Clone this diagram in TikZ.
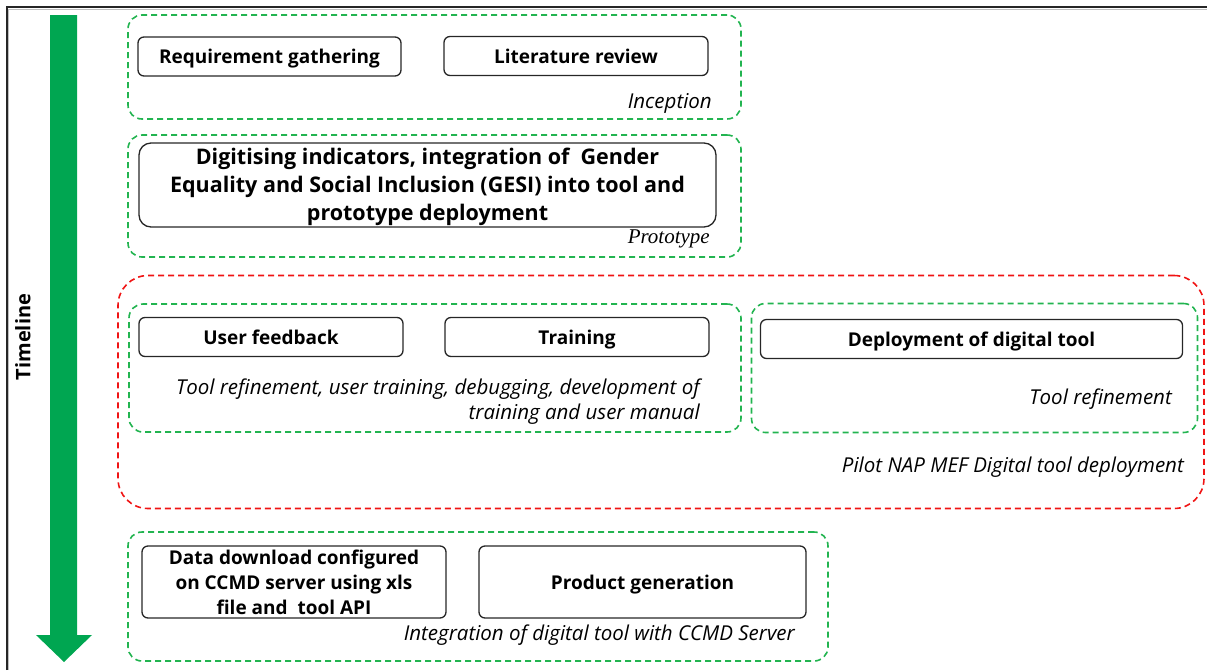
\documentclass[tikz,border=0pt]{standalone}
\usepackage{fontspec}
\setsansfont{Open Sans}
\newfontfamily\serifit{Liberation Serif}
\usetikzlibrary{positioning}
\definecolor{arrowgreen}{RGB}{0,166,81}
\definecolor{dashgreen}{RGB}{34,180,80}
\definecolor{dashred}{RGB}{240,20,20}
\tikzset{
  grp/.style={draw=dashgreen, line width=1.6pt, dash pattern=on 6pt off 4pt, rounded corners=14pt},
  redgrp/.style={draw=dashred, line width=1.6pt, dash pattern=on 6pt off 4pt, rounded corners=30pt},
  task/.style={draw=black!85, line width=1.3pt, rounded corners=6pt, font=\sffamily\bfseries\fontsize{19}{25}\selectfont, align=center, inner sep=0pt},
  oneline/.style={text height=17pt, text depth=3pt},
  bigtask/.style={task, rounded corners=12pt, font=\sffamily\bfseries\fontsize{21.5}{28}\selectfont},
  note/.style={font=\sffamily\itshape\fontsize{20.5}{25}\selectfont, align=right, inner sep=0pt, anchor=east},
}
\begin{document}
\begin{tikzpicture}[x=1pt,y=-1pt]
\useasboundingbox (0,0) rectangle (1207,670);
% frame
\draw[black!25, line width=1pt] (8.5,670) -- (8.5,9) -- (1207,9);
\draw[black!85, line width=2pt] (7,670) -- (7,7) -- (1207,7);
% timeline arrow
\fill[arrowgreen] (50,15) -- (77,15) -- (77,635) -- (92,635) -- (64,662) -- (36,635) -- (50,635) -- cycle;
\node[rotate=90, font=\sffamily\bfseries\fontsize{20}{22}\selectfont] (tl) at (23,337) {Timeline};

% Inception
\node[grp, minimum width=613pt, minimum height=104pt] (inc) at (434.5,67) {};
\node[task, oneline, minimum width=263pt, minimum height=39pt] (req) at (269.5,56.5) {Requirement gathering};
\node[task, oneline, minimum width=264pt, minimum height=39pt] (lit) at (576,56) {Literature review};
\node[note] (incl) at (712,103) {Inception};

% Prototype
\node[grp, minimum width=613pt, minimum height=122pt] (pro) at (434.5,196) {};
\node[bigtask, minimum width=577pt, minimum height=84pt] (dig) at (427.5,185) {};
\node[font=\sffamily\bfseries\fontsize{21.5}{28}\selectfont, align=center, inner sep=0pt] (digt) at (427.5,187) {Digitising indicators, integration of\ \ Gender\\Equality and Social Inclusion (GESI) into tool and\\prototype deployment};
\node[note, font=\serifit\itshape\fontsize{21}{22}\selectfont] (prol) at (710,239) {Prototype};

% Pilot
\node[redgrp, minimum width=1086pt, minimum height=233pt] (pil) at (661,392) {};
\node[grp, minimum width=612pt, minimum height=128pt] (tr) at (435,368) {};
\node[task, oneline, minimum width=264pt, minimum height=39pt] (uf) at (271,337) {User feedback};
\node[task, oneline, minimum width=264pt, minimum height=39pt] (trn) at (577,337) {Training};
\node[note] (trl) at (700,402) {Tool refinement, user training, debugging, development of\\training and user manual};
\node[grp, minimum width=446pt, minimum height=129pt] (dep) at (974.5,368) {};
\node[task, oneline, minimum width=422pt, minimum height=39pt] (dpl) at (971.5,339) {Deployment of digital tool};
\node[note] (depl) at (1172,399) {Tool refinement};
\node[note] (pill) at (1184,467.5) {Pilot NAP MEF Digital tool deployment};

% Integration
\node[grp, minimum width=700pt, minimum height=129pt] (int) at (478,596.5) {};
\node[task, minimum width=304pt, minimum height=72pt] (dd) at (294,582) {Data download configured\\on CCMD server using xls\\file and\ \ tool API};
\node[task, oneline, minimum width=327pt, minimum height=72pt] (pg) at (642.5,582) {Product generation};
\node[note] (intl) at (795,635) {Integration of digital tool with CCMD Server};
\end{tikzpicture}
\end{document}
